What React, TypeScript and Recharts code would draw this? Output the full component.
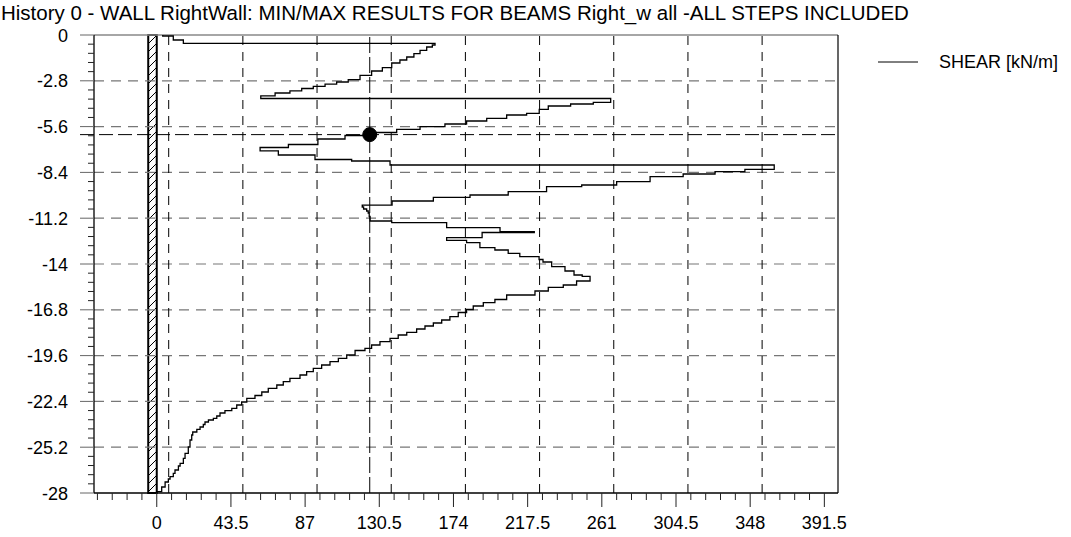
import React from 'react';
import {
  ScatterChart,
  Scatter,
  XAxis,
  YAxis,
  ReferenceLine,
  ReferenceArea,
  ReferenceDot,
} from 'recharts';

// Axis labels
const depthTicks = [0, -2.8, -5.6, -8.4, -11.2, -14, -16.8, -19.6, -22.4, -25.2, -28];
const shearTicks = [0, 43.5, 87, 130.5, 174, 217.5, 261, 304.5, 348, 391.5];
// Vertical grid of the plot (drawn off the tick marks)
const shearGrid = [7, 50.5, 94, 137.5, 181, 224.5, 268, 311.5, 355];

const shearDomain: [number, number] = [-36.8, 399.5];
const depthDomain: [number, number] = [-28, 0];

// Wall body, x from -5 to 0, full height
const wallFace = [-5, 0];

// Cursor readout
const cursorShear = 124.9;
const cursorDepth = -6.09;

// Shear envelope as steps: [shear kN/m, depth (m) at the bottom of the step]
const crestSteps = [[3.5, -0.061], [9.7, -0.306], [15.6, -0.507]];
const upperSteps = [
  [163.2, -0.611], [161.6, -0.734], [158.3, -0.935], [154.4, -1.143], [150.8, -1.345],
  [146.6, -1.528], [142.6, -1.712], [137.8, -1.999], [132.3, -2.201], [126.0, -2.464],
  [119.2, -2.733], [112.3, -2.873], [105.5, -3.008], [98.7, -3.136], [91.8, -3.271],
  [85.0, -3.411], [78.1, -3.546], [69.4, -3.717], [61.0, -3.882],
];
const secondSteps = [
  [266.2, -4.114], [256.0, -4.218], [242.7, -4.341], [229.6, -4.542], [224.3, -4.787],
  [216.9, -4.891], [205.2, -5.093], [193.5, -5.258], [181.7, -5.441], [169.0, -5.606],
  [154.4, -5.765], [140.7, -5.961], [125.1, -6.144], [110.4, -6.358], [94.5, -6.695],
  [77.2, -6.878], [60.6, -7.08],
];
const strutSteps = [[71.3, -7.336], [92.8, -7.611], [114.3, -7.703], [136.8, -7.948]];
const thirdSteps = [
  [362.1, -8.211], [344.9, -8.357], [327.4, -8.498], [308.7, -8.663], [289.3, -8.969],
  [269.7, -9.17], [249.2, -9.274], [228.6, -9.58], [206.1, -9.782], [183.7, -9.922],
  [162.2, -10.148], [138.0, -10.405],
];
const kinkSteps = [
  [120.5, -10.515], [121.3, -10.638], [123.1, -10.76], [124.0, -10.882], [124.6, -11.096],
  [125.1, -11.371],
];
const anchorSteps = [
  [137.8, -11.475], [170.0, -11.781], [201.3, -12.025], [221.4, -12.074], [190.8, -12.392],
  [170.0, -12.551], [181.7, -12.698], [189.5, -13.004], [198.3, -13.144], [206.1, -13.346],
  [212.9, -13.554], [224.2, -13.725], [226.5, -13.878], [231.6, -14.165], [239.4, -14.428],
  [244.7, -14.673], [249.5, -14.752], [254.1, -15.039],
];
const lowerSteps = [
  [246.2, -15.284], [238.4, -15.424], [229.6, -15.651], [221.8, -15.895], [205.2, -16.17],
  [198.3, -16.366], [191.5, -16.568], [185.6, -16.782], [181.7, -16.965], [176.8, -17.222],
  [171.9, -17.424], [167.1, -17.607], [162.2, -17.791], [157.3, -17.974], [152.4, -18.176],
  [146.6, -18.341], [141.6, -18.543], [136.8, -18.751], [130.9, -18.952], [126.0, -19.154],
  [122.1, -19.289], [116.3, -19.564], [111.4, -19.765], [106.5, -19.973], [101.6, -20.175],
  [96.7, -20.377], [91.8, -20.585], [87.9, -20.786], [84.0, -20.988], [78.1, -21.196],
  [74.2, -21.398], [70.4, -21.599], [65.4, -21.826], [61.6, -22.04], [57.6, -22.211],
  [52.8, -22.437], [49.8, -22.62], [46.9, -22.822], [44.0, -22.969], [40.0, -23.109],
  [37.1, -23.293], [35.2, -23.433], [33.2, -23.537], [30.3, -23.66], [28.3, -23.812],
  [27.3, -23.965], [25.4, -24.106], [23.5, -24.271], [21.1, -24.454], [20.5, -24.76],
  [19.5, -25.188], [18.5, -25.573], [16.6, -25.879], [15.6, -26.184], [13.7, -26.35],
  [12.7, -26.594], [10.7, -26.796], [9.7, -27.004], [7.8, -27.144], [6.8, -27.328],
  [4.9, -27.633], [2.9, -27.921], [0, -28],
];

const stepZones = [
  crestSteps, upperSteps, secondSteps, strutSteps, thirdSteps, kinkSteps, anchorSteps, lowerSteps,
];

// Each step: vertical run at constant shear, then a jump to the next value
const shearPath: { x: number; y: number }[] = [];
{
  let top = 0;
  for (const zone of stepZones) {
    for (const [v, d] of zone) {
      shearPath.push({ x: v, y: top }, { x: v, y: d });
      top = d;
    }
  }
}

// Minor tick positions: five subdivisions per labelled interval
const depthStep = 2.8 / 5;
const depthMinor: number[] = [];
for (let i = 0; i < depthTicks.length - 1; i++) {
  for (let k = 0; k < 5; k++) depthMinor.push(+(depthTicks[i] - k * depthStep).toFixed(3));
}
depthMinor.push(depthTicks[depthTicks.length - 1]);

const shearStep = 43.5 / 5;
const shearMinor: number[] = [];
for (let k = 4; k >= 1; k--) shearMinor.push(+(-k * shearStep).toFixed(3));
for (let i = 0; i < shearTicks.length - 1; i++) {
  for (let k = 0; k < 5; k++) shearMinor.push(+(shearTicks[i] + k * shearStep).toFixed(3));
}
shearMinor.push(shearTicks[shearTicks.length - 1]);

const FONT = '"Liberation Sans", Arial, sans-serif';

const isMajor = (list: number[], v: number) => list.find((t) => Math.abs(t - v) < 1e-6);

const DepthTick = (props: any) => {
  const { x, y, payload } = props;
  const major = isMajor(depthTicks, payload.value);
  const isMaj = major !== undefined;
  return (
    <g>
      <line
        x1={x - (isMaj ? 14 : 6)}
        x2={x}
        y1={y}
        y2={y}
        stroke={isMaj ? '#666' : '#222'}
        strokeWidth={1}
      />
      {isMaj && (
        <text
          x={x - 26}
          y={y + 6.5}
          textAnchor="end"
          fontFamily={FONT}
          fontSize={18}
          fill="#000"
        >
          {String(major)}
        </text>
      )}
    </g>
  );
};

const ShearTick = (props: any) => {
  const { x, y, payload } = props;
  const major = isMajor(shearTicks, payload.value);
  const isMaj = major !== undefined;
  return (
    <g>
      <line x1={x} x2={x} y1={y} y2={y + (isMaj ? 14 : 7)} stroke="#222" strokeWidth={1} />
      {isMaj && (
        <text
          x={x}
          y={y + 36}
          textAnchor="middle"
          fontFamily={FONT}
          fontSize={18}
          fill="#000"
        >
          {String(major)}
        </text>
      )}
    </g>
  );
};

export default function App() {
  return (
    <div style={{ position: 'relative', width: 1071, height: 537, background: '#fff' }}>
      <style>{'body{margin:0;background:#fff}'}</style>
      <svg width={0} height={0} style={{ position: 'absolute' }}>
        <defs>
          <pattern
            id="wallHatch"
            patternUnits="userSpaceOnUse"
            width={8}
            height={8}
          >
            <rect width={8} height={8} fill="#fff" />
            <path d="M-2,2 L2,-2 M0,8 L8,0 M6,10 L10,6" stroke="#000" strokeWidth={1} />
          </pattern>
        </defs>
      </svg>
      <ScatterChart
        width={1071}
        height={537}
        margin={{ top: 35, right: 233, bottom: 0, left: 0 }}
      >
        <XAxis
          type="number"
          dataKey="x"
          domain={shearDomain}
          ticks={shearMinor}
          interval={0}
          allowDataOverflow
          height={44}
          tickSize={0}
          tickMargin={0}
          tickLine={false}
          axisLine={{ stroke: '#000', strokeWidth: 1.3 }}
          tick={<ShearTick />}
        />
        <YAxis
          type="number"
          dataKey="y"
          domain={depthDomain}
          ticks={depthMinor}
          interval={0}
          allowDataOverflow
          width={94}
          tickSize={0}
          tickMargin={0}
          tickLine={false}
          axisLine={{ stroke: '#000', strokeWidth: 1.3 }}
          tick={<DepthTick />}
        />

        {depthTicks.slice(1, -1).map((d) => (
          <ReferenceLine
            key={'h' + d}
            y={d}
            stroke="#777"
            strokeWidth={1.2}
            strokeDasharray="10 7"
            isFront={false}
          />
        ))}
        {shearGrid.map((s) => (
          <ReferenceLine
            key={'v' + s}
            x={s}
            stroke="#000"
            strokeWidth={1}
            strokeDasharray="9 7"
          />
        ))}
        <ReferenceLine y={0} stroke="#888" strokeWidth={1.3} />
        <ReferenceLine x={shearDomain[1]} stroke="#000" strokeWidth={1.2} />

        <ReferenceArea
          x1={wallFace[0]}
          x2={wallFace[1]}
          y1={depthDomain[0]}
          y2={depthDomain[1]}
          fill="url(#wallHatch)"
          fillOpacity={1}
          stroke="#000"
          strokeWidth={2}
        />

        <ReferenceLine
          x={cursorShear}
          stroke="#000"
          strokeWidth={1}
          strokeDasharray="16 4"
        />
        <ReferenceLine
          stroke="#000"
          strokeWidth={1}
          strokeDasharray="14 5"
          ifOverflow="visible"
          segment={[
            { x: -45, y: cursorDepth },
            { x: shearDomain[1], y: cursorDepth },
          ]}
        />

        <Scatter
          data={shearPath}
          fill="#000"
          line={{ stroke: '#000', strokeWidth: 1.3 }}
          lineType="joint"
          shape={() => <g />}
          isAnimationActive={false}
        />

        <ReferenceDot x={cursorShear} y={cursorDepth} r={7} fill="#000" stroke="#000" />
      </ScatterChart>

      <svg
        width={1071}
        height={537}
        style={{ position: 'absolute', left: 0, top: 0, pointerEvents: 'none' }}
      >
        <text x={1} y={20} fontFamily={FONT} fontSize={20.5} fill="#000">
          History 0 - WALL RightWall: MIN/MAX RESULTS FOR BEAMS Right_w all -ALL STEPS INCLUDED
        </text>
        <line x1={878} x2={918} y1={62} y2={62} stroke="#000" strokeWidth={1} />
        <text x={939} y={68} fontFamily={FONT} fontSize={18} fill="#000">
          SHEAR [kN/m]
        </text>
      </svg>
    </div>
  );
}
